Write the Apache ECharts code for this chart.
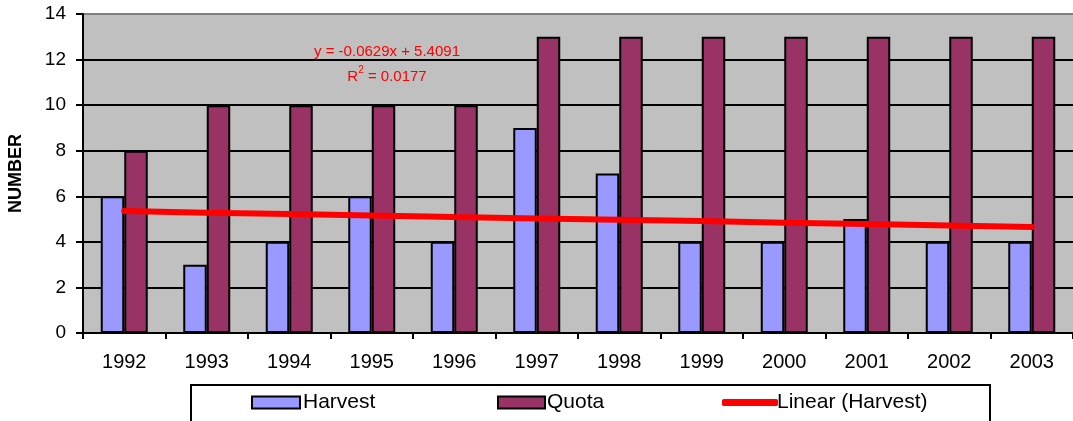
<!DOCTYPE html>
<html>
<head>
<meta charset="utf-8">
<script src="https://cdn.jsdelivr.net/npm/echarts@6/dist/echarts.min.js"></script>
<style>
  html, body { margin: 0; padding: 0; background: #ffffff; }
  #chart { width: 1073px; height: 421px; }
</style>
</head>
<body>
<div id="chart"></div>
<script>
// Harvest vs quota by year, with a linear trend of the harvest
const years = ['1992', '1993', '1994', '1995', '1996', '1997', '1998', '1999', '2000', '2001', '2002', '2003'];
const harvest = [6, 3, 4, 6, 4, 9, 7, 4, 4, 5, 4, 4];
const quota = [8, 10, 10, 10, 10, 13, 13, 13, 13, 13, 13, 13];
// Fitted trend of the harvest at each year
const harvestTrend = [5.35, 5.28, 5.22, 5.16, 5.09, 5.03, 4.97, 4.91, 4.84, 4.78, 4.72, 4.65];
const yTicks = [0, 2, 4, 6, 8, 10, 12, 14];
const trendEquation = 'y = -0.0629x + 5.4091';
const trendR2 = '0.0177';

const FONT = '"Liberation Sans", Arial, sans-serif';

const chart = echarts.init(document.getElementById('chart'), null, { renderer: 'canvas' });

// Gridlines are black; the top edge of the plot is a grey border
const gridColors = yTicks.map((v, i) => (i === yTicks.length - 1 ? '#808080' : '#000000'));

chart.setOption({
  animation: false,
  backgroundColor: '#ffffff',
  grid: {
    left: 83, right: 0, top: 14, bottom: 88,
    containLabel: false, outerBoundsMode: 'none',
    show: true, backgroundColor: '#C0C0C0', borderWidth: 0
  },
  xAxis: {
    type: 'category',
    data: years,
    boundaryGap: true,
    axisLine: { lineStyle: { color: '#000', width: 2 } },
    axisTick: { show: true, length: 6, lineStyle: { color: '#000', width: 2 } },
    axisLabel: { color: '#000', fontSize: 20, fontFamily: FONT, margin: 19 },
    splitLine: { show: false }
  },
  yAxis: {
    type: 'value',
    min: yTicks[0],
    max: yTicks[yTicks.length - 1],
    interval: 2,
    name: 'NUMBER',
    nameLocation: 'middle',
    nameGap: 58,
    nameRotate: 90,
    nameTextStyle: { color: '#000', fontSize: 18, fontWeight: 'bold', fontFamily: FONT },
    axisLine: { show: true, lineStyle: { color: '#000', width: 2 } },
    axisTick: { show: true, length: 7, lineStyle: { color: '#000', width: 2 } },
    axisLabel: { color: '#000', fontSize: 19, fontFamily: FONT, margin: 17 },
    splitLine: { show: true, lineStyle: { color: gridColors, width: 2 } }
  },
  legend: [
    {
      data: [{ name: 'Harvest', icon: 'rect' }], left: 251, top: 392, itemWidth: 48, itemHeight: 12, itemGap: 5,
      itemStyle: { borderColor: '#000', borderWidth: 2 },
      textStyle: { color: '#000', fontSize: 21, fontFamily: FONT, padding: [0, 0, 0, -2] },
      padding: 0
    },
    {
      data: [{ name: 'Quota', icon: 'rect' }], left: 497, top: 392, itemWidth: 47, itemHeight: 12, itemGap: 5,
      itemStyle: { borderColor: '#000', borderWidth: 2 },
      textStyle: { color: '#000', fontSize: 21, fontFamily: FONT, padding: [0, 0, 0, -3] },
      padding: 0
    },
    {
      data: [{ name: 'Linear (Harvest)', icon: 'roundRect' }], left: 722, top: 392, itemWidth: 56, itemHeight: 7, itemGap: 5,
      textStyle: { color: '#000', fontSize: 21, fontFamily: FONT, padding: [0, 0, 0, -6] },
      padding: 0
    }
  ],
  graphic: [
    {
      type: 'rect', z: -1, x: 191, y: 385,
      shape: { width: 799, height: 60 },
      style: { fill: '#ffffff', stroke: '#000', lineWidth: 2 }
    },
    {
      type: 'text', z: 100, x: 387, y: 44,
      style: {
        text: trendEquation, fill: '#FF0000', fontSize: 15, fontFamily: FONT,
        align: 'center', verticalAlign: 'top'
      }
    },
    {
      type: 'text', z: 100, x: 387, y: 64,
      style: {
        align: 'center', verticalAlign: 'top',
        text: '{r|R}{s|2}{r| = ' + trendR2 + '}',
        rich: {
          r: { fill: '#FF0000', fontSize: 15, fontFamily: FONT, lineHeight: 20, verticalAlign: 'bottom' },
          s: { fill: '#FF0000', fontSize: 10, fontFamily: FONT, lineHeight: 10, padding: [0, 0, 9, 0], verticalAlign: 'bottom' }
        }
      }
    }
  ],
  series: [
    {
      name: 'Harvest', type: 'bar', data: harvest,
      barWidth: 23.5, barGap: '0%',
      itemStyle: { color: '#9999FF', borderColor: '#000', borderWidth: 2 }
    },
    {
      name: 'Quota', type: 'bar', data: quota,
      barWidth: 23.5,
      itemStyle: { color: '#993366', borderColor: '#000', borderWidth: 2 }
    },
    {
      name: 'Linear (Harvest)', type: 'line', data: harvestTrend,
      symbol: 'none', z: 5,
      lineStyle: { color: '#FF0000', width: 6, cap: 'round' },
      itemStyle: { color: '#FF0000' }
    }
  ]
});
</script>
</body>
</html>
